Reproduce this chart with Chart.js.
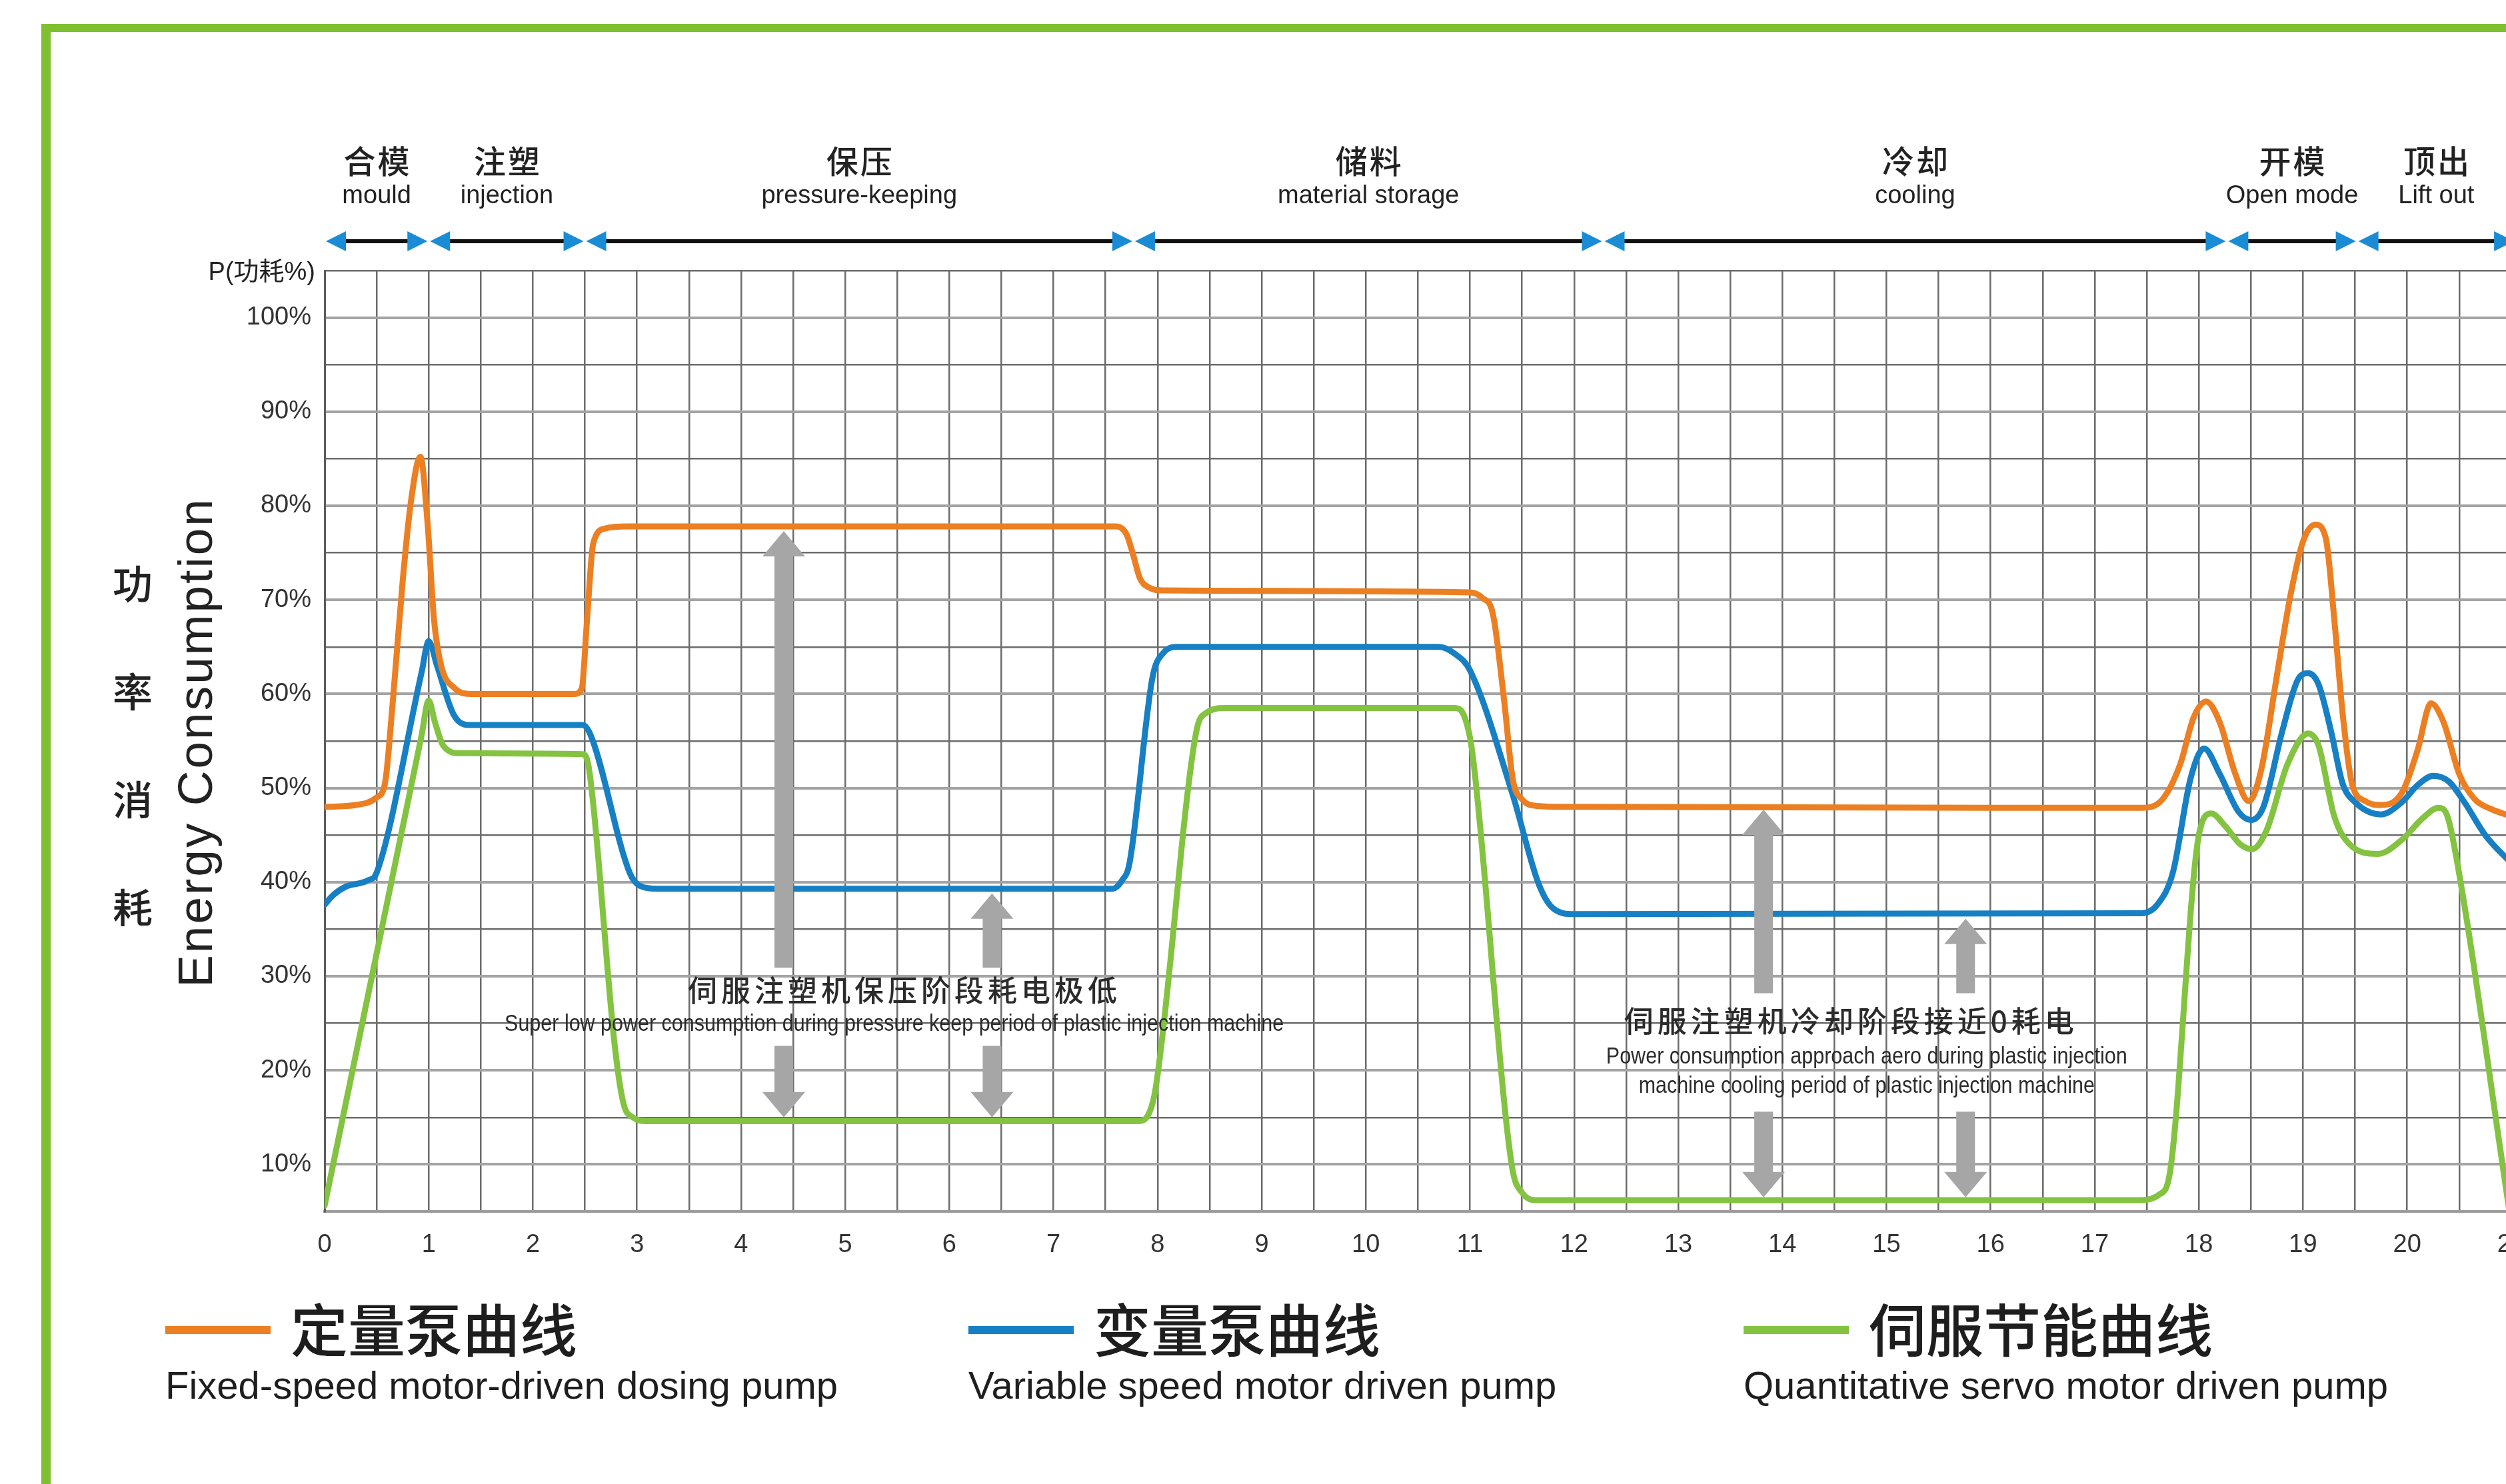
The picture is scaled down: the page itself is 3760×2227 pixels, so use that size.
<!DOCTYPE html>
<html>
<head>
<meta charset="utf-8">
<title>Energy Consumption</title>
<script src="https://cdn.jsdelivr.net/npm/chart.js@4.4.0/dist/chart.umd.min.js"></script>
<style>
    html, body { margin: 0; padding: 0; background: #fff; overflow: hidden; }
    #wrap { width: 3760px; height: 2227px; overflow: hidden; position: relative; }
    canvas { display: block; }
</style>
</head>
<body>
<div id="wrap"><canvas id="energy-chart" width="3817" height="2227"></canvas></div>
<script>
// Fixed-speed pump (orange)
const fixedX = [0, 0.3, 0.5, 0.58, 0.65, 0.75, 0.83, 0.92, 0.99, 1.05, 1.12, 1.25, 1.4,
    2.4, 2.47, 2.52, 2.58, 2.7, 2.9, 7.6, 7.7, 7.76, 7.83, 7.92, 8.05,
    11.0, 11.12, 11.22, 11.33, 11.41, 11.5, 11.65, 11.9, 17.45, 17.65, 17.82, 17.95,
    18.07, 18.2, 18.35, 18.48, 18.6, 18.75, 18.88, 19.0, 19.12, 19.22, 19.3, 19.38,
    19.47, 19.6, 19.75, 19.95, 20.1, 20.23, 20.35, 20.5, 20.65, 20.8, 21.0];
const fixedY = [48, 48.2, 49, 50.5, 58.5, 72, 80.5, 85.2, 78, 68, 63, 60.6, 60,
    60, 60.6, 67.8, 76, 77.6, 77.8, 77.8, 77, 75, 72.3, 71.3, 71,
    70.8, 70.2, 68.5, 59.1, 51, 48.8, 48.1, 48, 47.9, 48.8, 52.5, 57.5,
    59.2, 57, 51.5, 48.6, 52, 62, 70.5, 76.2, 78, 76.5, 68, 58,
    50.5, 48.6, 48.2, 49.5, 54, 59, 57, 51.5, 48.8, 47.8, 47];

// Variable speed pump (blue)
const variableX = [0, 0.08, 0.2, 0.42, 0.5, 0.93, 1.0, 1.08, 1.24, 1.38, 2.48, 2.56, 2.93, 3.03, 3.2,
    7.57, 7.66, 7.73, 7.95, 8.05, 8.2, 10.7, 10.85, 11.0, 11.41, 11.66, 11.8, 12.0,
    17.45, 17.6, 17.75, 17.92, 18.05, 18.2, 18.38, 18.5, 18.62, 18.8, 18.95, 19.05,
    19.15, 19.27, 19.38, 19.5, 19.75, 19.95, 20.1, 20.25, 20.4, 20.55, 20.75, 21.0];
const variableY = [37.6, 38.6, 39.5, 40.2, 41, 62.2, 65.6, 63, 57.8, 56.7, 56.7, 55.5, 41, 39.6, 39.3,
    39.3, 40.2, 42, 61.7, 64.3, 65, 65, 64.3, 62.5, 49.3, 39.8, 37.2, 36.6,
    36.7, 37.6, 41, 51, 54.2, 51.5, 47.5, 46.6, 48, 56, 61.5, 62.2,
    61, 56, 50.5, 48.5, 47.2, 48.5, 50.3, 51.3, 50.7, 48.5, 45, 42];

// Servo energy-saving pump (green)
const servoX = [0, 0.93, 1.0, 1.06, 1.14, 1.3, 2.48, 2.54, 2.79, 2.87, 2.96, 3.1,
    7.82, 7.92, 7.98, 8.37, 8.47, 8.65, 10.85, 10.95, 11.02, 11.4, 11.5, 11.65,
    17.45, 17.62, 17.72, 18.0, 18.12, 18.25, 18.4, 18.51, 18.65, 18.85, 19.05, 19.15,
    19.3, 19.45, 19.72, 19.95, 20.15, 20.3, 20.38, 20.45, 20.98];
const servoY = [5.6, 55.5, 59.3, 57, 54.5, 53.7, 53.6, 52, 22.3, 16.5, 15, 14.6,
    14.6, 15.5, 18, 55.9, 58, 58.5, 58.5, 57.5, 54, 10, 7, 6.2,
    6.2, 6.8, 9, 45, 47.3, 46, 44, 43.5, 45.5, 52.5, 55.8, 54.5,
    47, 44, 43, 44.5, 46.8, 47.9, 47.2, 44, 5.2];

// Axis tick labels
const yLabelValues = [10, 20, 30, 40, 50, 60, 70, 80, 90, 100];
const xLabelValues = [0, 1, 2, 3, 4, 5, 6, 7, 8, 9, 10, 11, 12, 13, 14, 15, 16, 17, 18, 19, 20, 21];

// Machine phases along the top
const phaseBounds = [0, 1, 2.5, 7.77, 12.28, 18.27, 19.52, 21.04];
const phaseCn = ['合模', '注塑', '保压', '储料', '冷却', '开模', '顶出'];
const phaseEn = ['mould', 'injection', 'pressure-keeping', 'material storage', 'cooling', 'Open mode', 'Lift out'];

// Legend texts
const seriesCn = ['定量泵曲线', '变量泵曲线', '伺服节能曲线'];
const seriesEn = ['Fixed-speed motor-driven dosing pump', 'Variable speed motor driven pump', 'Quantitative servo motor driven pump'];

// Gray double arrows (x, tip top, shaft break top, shaft break bottom, tip bottom) in data units
const arrowX = [4.41, 6.41, 13.82, 15.76];
const arrowTop = [77.3, 38.8, 47.7, 36.1];
const arrowBreakTop = [30.9, 30.9, 28.2, 28.2];
const arrowBreakBottom = [22.6, 22.6, 15.6, 15.6];
const arrowBottom = [15.0, 15.0, 6.5, 6.5];

const noteCn = ['伺服注塑机保压阶段耗电极低', '伺服注塑机冷却阶段接近0耗电'];
const noteEn = [
    ['Super low power consumption during pressure keep period of plastic injection machine'],
    ['Power consumption approach aero during plastic injection', 'machine cooling period of plastic injection machine']
];

const ORANGE = '#ec7f22';
const BLUE = '#1780c4';
const GREEN = '#84c341';
const FRAME = '#80bf30';
const LATIN = '"Liberation Sans", Arial, sans-serif';
const CJK = '"Noto Sans CJK SC", "Liberation Sans", sans-serif';

function toPoints(xs, ys) {
    return xs.map((x, i) => ({ x: x, y: ys[i] }));
}

function drawArrow(ctx, px, tipY, endY) {
    const dir = tipY < endY ? 1 : -1;
    const headH = 38, headW = 64, shaftW = 28;
    const baseY = tipY + dir * headH;
    ctx.beginPath();
    ctx.moveTo(px, tipY);
    ctx.lineTo(px + headW / 2, baseY);
    ctx.lineTo(px + shaftW / 2, baseY);
    ctx.lineTo(px + shaftW / 2, endY);
    ctx.lineTo(px - shaftW / 2, endY);
    ctx.lineTo(px - shaftW / 2, baseY);
    ctx.lineTo(px - headW / 2, baseY);
    ctx.closePath();
    ctx.fill();
}

const overlayPlugin = {
    id: 'overlay',
    beforeDraw(chart) {
        const ctx = chart.ctx;
        ctx.save();
        ctx.fillStyle = '#ffffff';
        ctx.fillRect(0, 0, chart.width, chart.height);
        // green frame
        ctx.fillStyle = FRAME;
        ctx.fillRect(62, 36, chart.width, 12);
        ctx.fillRect(62, 36, 14, chart.height);
        ctx.restore();
    },
    afterDatasetsDraw(chart) {
        const ctx = chart.ctx;
        const xs = chart.scales.x, ys = chart.scales.y;
        ctx.save();
        ctx.fillStyle = '#a6a6a6';
        arrowX.forEach((v, i) => {
            const px = xs.getPixelForValue(v);
            drawArrow(ctx, px, ys.getPixelForValue(arrowTop[i]), ys.getPixelForValue(arrowBreakTop[i]));
            drawArrow(ctx, px, ys.getPixelForValue(arrowBottom[i]), ys.getPixelForValue(arrowBreakBottom[i]));
        });

        // notes
        ctx.fillStyle = '#2b2b2b';
        ctx.textAlign = 'center';
        ctx.textBaseline = 'middle';
        const cnPos = [[5.55, 28.5], [14.64, 25.2]];
        const enPos = [[[5.47, 24.9, 1169]], [[14.81, 21.4, 782], [14.81, 18.3, 684]]];
        noteCn.forEach((t, i) => {
            ctx.font = '500 44px ' + CJK;
            ctx.letterSpacing = '6px';
            ctx.fillText(t, xs.getPixelForValue(cnPos[i][0]) + 3, ys.getPixelForValue(cnPos[i][1]));
            ctx.letterSpacing = '0px';
            ctx.font = '35px ' + LATIN;
            noteEn[i].forEach((line, j) => {
                const p = enPos[i][j];
                ctx.fillText(line, xs.getPixelForValue(p[0]), ys.getPixelForValue(p[1]), p[2]);
            });
        });
        ctx.restore();
    },
    afterDraw(chart) {
        const ctx = chart.ctx;
        const xs = chart.scales.x;
        const area = chart.chartArea;
        ctx.save();

        // phase bar
        const barY = 362, tri = 30;
        for (let i = 0; i < phaseCn.length; i++) {
            const x0 = xs.getPixelForValue(phaseBounds[i]) + 2;
            const x1 = xs.getPixelForValue(phaseBounds[i + 1]) - 2;
            ctx.strokeStyle = '#111';
            ctx.lineWidth = 6;
            ctx.beginPath();
            ctx.moveTo(x0 + tri - 2, barY);
            ctx.lineTo(x1 - tri + 2, barY);
            ctx.stroke();
            ctx.fillStyle = '#1a8cd6';
            ctx.beginPath();
            ctx.moveTo(x0, barY);
            ctx.lineTo(x0 + tri, barY - tri / 2);
            ctx.lineTo(x0 + tri, barY + tri / 2);
            ctx.closePath();
            ctx.fill();
            ctx.beginPath();
            ctx.moveTo(x1, barY);
            ctx.lineTo(x1 - tri, barY - tri / 2);
            ctx.lineTo(x1 - tri, barY + tri / 2);
            ctx.closePath();
            ctx.fill();

            const cx = (xs.getPixelForValue(phaseBounds[i]) + xs.getPixelForValue(phaseBounds[i + 1])) / 2;
            ctx.fillStyle = '#222';
            ctx.textAlign = 'center';
            ctx.textBaseline = 'middle';
            ctx.font = '500 48px ' + CJK;
            ctx.letterSpacing = '3px';
            ctx.fillText(phaseCn[i], cx + 1.5, 242);
            ctx.letterSpacing = '0px';
            ctx.textBaseline = 'alphabetic';
            ctx.font = '38px ' + LATIN;
            ctx.fillText(phaseEn[i], cx, 305);
        }

        // y axis captions
        ctx.fillStyle = '#222';
        ctx.textAlign = 'right';
        ctx.textBaseline = 'middle';
        ctx.font = '38px ' + LATIN + ', "Noto Sans CJK SC"';
        ctx.fillText('P(功耗%)', area.left - 14, area.top + 4);

        ctx.textAlign = 'center';
        ctx.font = '500 60px ' + CJK;
        ['功', '率', '消', '耗'].forEach((c, i) => ctx.fillText(c, 199, 876 + i * 162));

        ctx.save();
        ctx.translate(318, 1114);
        ctx.rotate(-Math.PI / 2);
        ctx.textBaseline = 'alphabetic';
        ctx.font = '73px ' + LATIN;
        ctx.letterSpacing = '3px';
        ctx.fillText('Energy Consumption', 0, 0);
        ctx.restore();

        // legend
        const legendLeft = [248, 1453, 2616];
        chart.data.datasets.forEach((ds, i) => {
            const lx = legendLeft[i];
            ctx.fillStyle = ds.borderColor;
            ctx.fillRect(lx, 1990, 158, 12);
            ctx.fillStyle = '#1e1e1e';
            ctx.textAlign = 'left';
            ctx.textBaseline = 'middle';
            ctx.font = '500 86px ' + CJK;
            ctx.fillText(seriesCn[i], lx + 188, 1996);
            ctx.textBaseline = 'alphabetic';
            ctx.font = '58px ' + LATIN;
            ctx.fillText(seriesEn[i], lx, 2099);
        });
        ctx.restore();
    }
};

function gridColor(c) {
    const v = c.tick ? c.tick.value : 0;
    return v % 10 === 0 ? '#a4a4a4' : '#6c6c6c';
}
function gridWidth(c) {
    const v = c.tick ? c.tick.value : 0;
    return v % 10 === 0 ? 4 : 2.5;
}

function initializeChart() {
    const ctx = document.getElementById('energy-chart');

    new Chart(ctx, {
        type: 'line',
        data: {
            datasets: [
                { label: seriesCn[0], data: toPoints(fixedX, fixedY), borderColor: ORANGE },
                { label: seriesCn[1], data: toPoints(variableX, variableY), borderColor: BLUE },
                { label: seriesCn[2], data: toPoints(servoX, servoY), borderColor: GREEN }
            ]
        },
        options: {
            responsive: false,
            devicePixelRatio: 1,
            animation: false,
            layout: { padding: { top: 406, right: 0, left: 0, bottom: 0 } },
            elements: {
                point: { radius: 0 },
                line: { borderWidth: 9, cubicInterpolationMode: 'monotone', fill: false, borderCapStyle: 'round', borderJoinStyle: 'round' }
            },
            plugins: {
                legend: { display: false },
                tooltip: { enabled: false }
            },
            scales: {
                x: {
                    type: 'linear',
                    min: 0,
                    max: 21,
                    afterFit(scale) { scale.height = 2227 - 1818; },
                    border: { display: true, color: '#9c9c9c', width: 4 },
                    grid: { color: '#6c6c6c', lineWidth: 2.5, drawTicks: false },
                    ticks: {
                        stepSize: 0.5,
                        autoSkip: false,
                        maxRotation: 0,
                        padding: 28,
                        color: '#333',
                        font: { family: LATIN, size: 38 },
                        callback: (v) => xLabelValues.includes(v) ? String(v) : ''
                    }
                },
                y: {
                    min: 5,
                    max: 105,
                    afterFit(scale) { scale.width = 487; },
                    border: { display: true, color: '#5c5c5c', width: 3 },
                    grid: { color: gridColor, lineWidth: gridWidth, drawTicks: false },
                    ticks: {
                        stepSize: 5,
                        padding: 20,
                        color: '#333',
                        font: { family: LATIN, size: 38 },
                        callback: (v) => yLabelValues.includes(v) ? v + '%' : ''
                    }
                }
            }
        },
        plugins: [overlayPlugin]
    });
}

document.addEventListener('DOMContentLoaded', initializeChart);
</script>
</body>
</html>
